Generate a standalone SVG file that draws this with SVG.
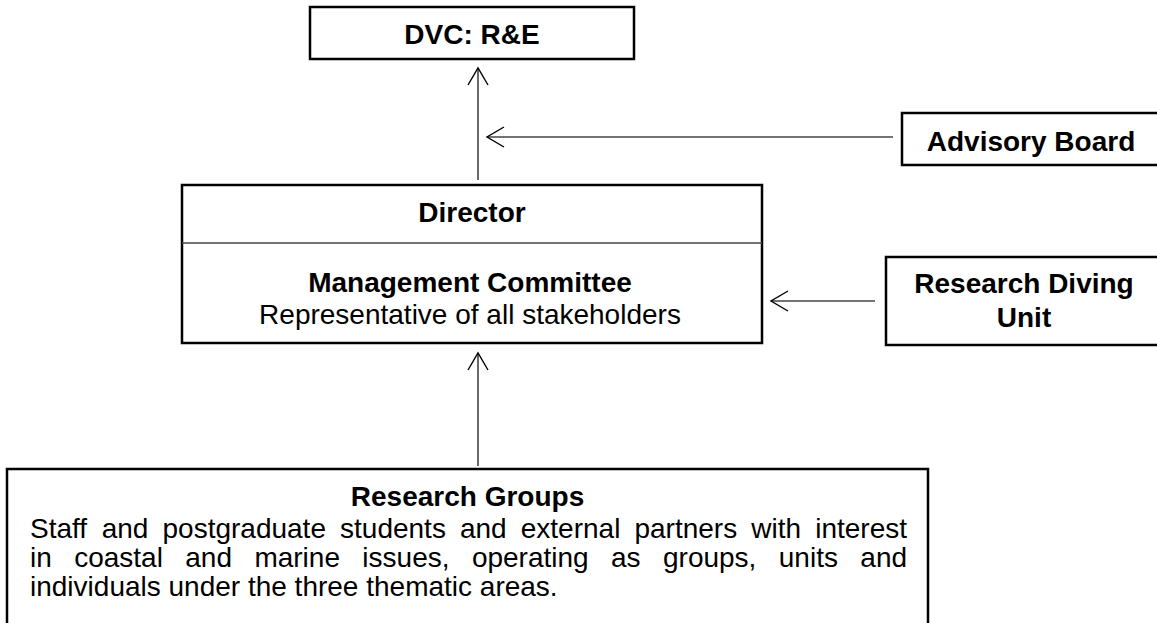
<svg xmlns="http://www.w3.org/2000/svg" width="1157" height="623" viewBox="0 0 1157 623">
<style>
.box{fill:#fff;stroke:#000;stroke-width:2.5}
.t{font-family:"Liberation Sans",Arial,sans-serif;font-size:28px;fill:#000}
.b{font-weight:bold}
.c{text-anchor:middle}
.conn{stroke:#444;stroke-width:1.6;fill:none;marker-end:url(#arr)}
</style>
<defs>
<marker id="arr" markerUnits="userSpaceOnUse" viewBox="-20 -12 22 24" refX="0" refY="0" markerWidth="22" markerHeight="24" orient="auto" overflow="visible">
<path d="M-17,-10 L0,0 L-17,10" fill="none" stroke="#000" stroke-width="1.4"/>
</marker>
</defs>
<rect width="1157" height="623" fill="#fff"/>
<g id="dvc">
<rect class="box" x="310" y="7" width="324" height="52"/>
<text class="t b c" x="472" y="44">DVC: R&amp;E</text>
</g>
<g id="advisory">
<rect class="box" x="902" y="113" width="262" height="52"/>
<text class="t b c" x="1031" y="151">Advisory Board</text>
</g>
<g id="director">
<rect class="box" x="182" y="185" width="580" height="158"/>
<line x1="182" y1="243" x2="762" y2="243" stroke="#444" stroke-width="1.6"/>
<text class="t b c" x="472" y="222">Director</text>
<text class="t b c" x="470" y="292">Management Committee</text>
<text class="t c" x="470" y="324">Representative of all stakeholders</text>
</g>
<g id="diving">
<rect class="box" x="886" y="257" width="276" height="88"/>
<text class="t b c" x="1024" y="293">Research Diving</text>
<text class="t b c" x="1024" y="327">Unit</text>
</g>
<g id="groups">
<rect class="box" x="7" y="469" width="921" height="200"/>
<text class="t b c" x="467.5" y="506">Research Groups</text>
<text class="t" y="538"><tspan x="30">Staff</tspan><tspan x="101.7">and</tspan><tspan x="162.5">postgraduate</tspan><tspan x="340.04">students</tspan><tspan x="459.98">and</tspan><tspan x="520.78">external</tspan><tspan x="634.48">partners</tspan><tspan x="751.28">with</tspan><tspan x="815.16">interest</tspan></text>
<text class="t" y="567"><tspan x="30">in</tspan><tspan x="74.18">coastal</tspan><tspan x="185.28">and</tspan><tspan x="254.38">marine</tspan><tspan x="362.35">issues,</tspan><tspan x="471.89">operating</tspan><tspan x="611.02">as</tspan><tspan x="663">groups,</tspan><tspan x="778.78">units</tspan><tspan x="860.32">and</tspan></text>
<text class="t" x="30" y="596">individuals under the three thematic areas.</text>
</g>
<g id="connectors">
<line class="conn" x1="478" y1="180" x2="478" y2="68"/>
<line class="conn" x1="893" y1="137" x2="487" y2="137"/>
<line class="conn" x1="875" y1="301" x2="771" y2="301"/>
<line class="conn" x1="478" y1="466" x2="478" y2="353"/>
</g>
</svg>
